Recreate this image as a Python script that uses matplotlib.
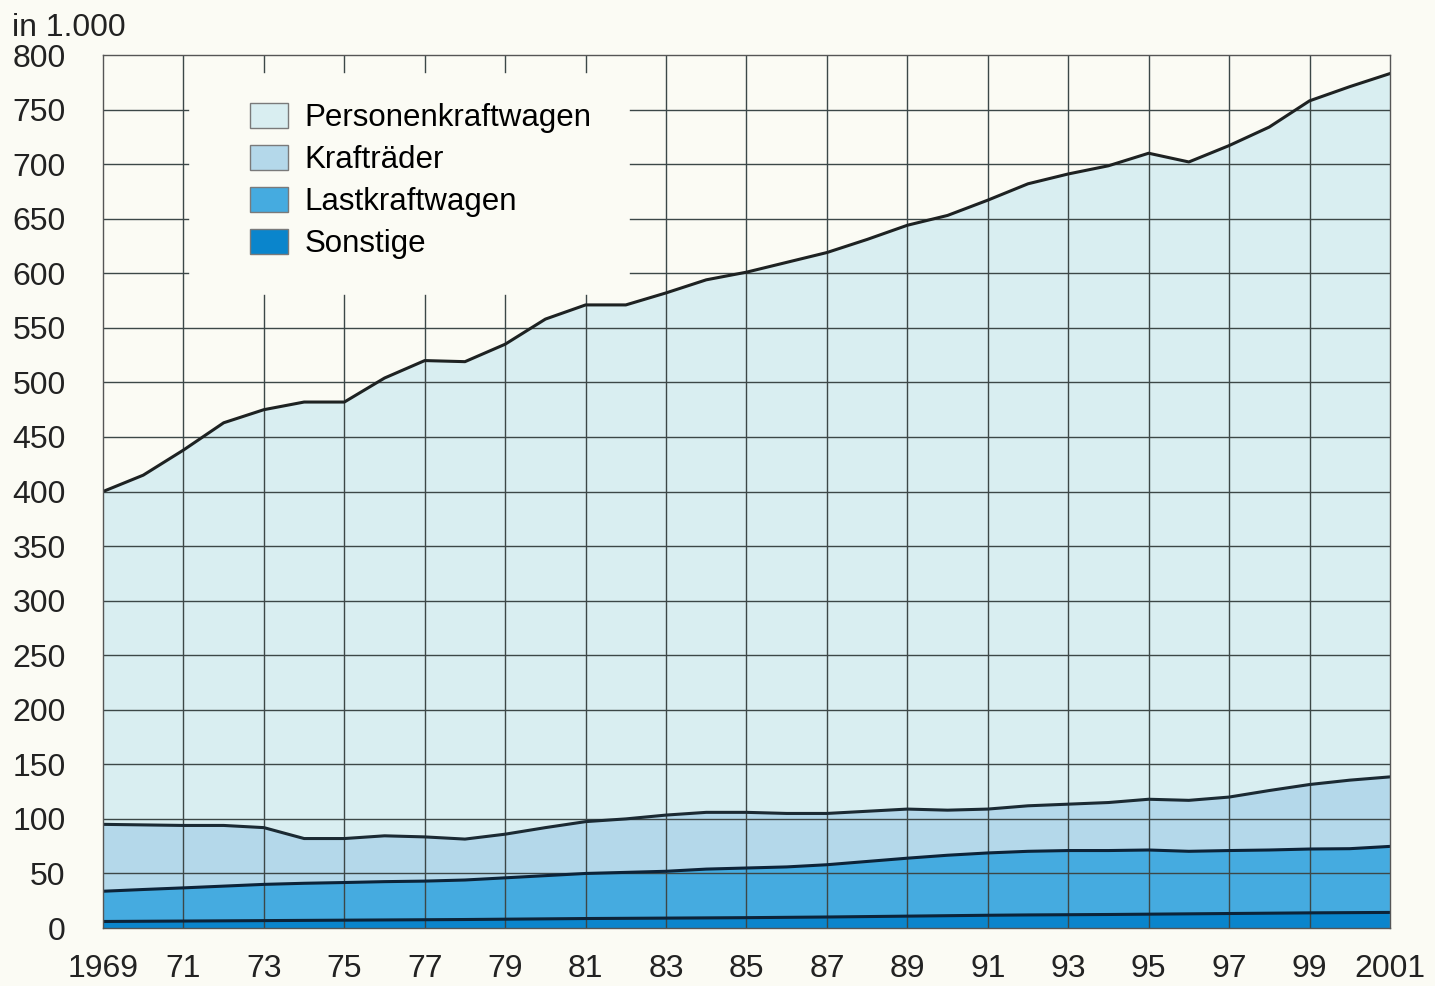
import matplotlib.pyplot as plt
import numpy as np
from matplotlib.patches import Patch

plt.rcParams['font.family'] = ['Liberation Sans', 'DejaVu Sans']

# Bestand in 1.000, 1969-2001
years = np.arange(1969, 2002)
sonstige = [6.0, 6.2, 6.4, 6.6, 6.8, 7.0, 7.2, 7.4, 7.6, 7.8, 8.1, 8.4, 8.7, 8.9, 9.1, 9.3, 9.5,
            9.8, 10.1, 10.5, 10.9, 11.3, 11.7, 12.0, 12.2, 12.4, 12.7, 13.0, 13.3, 13.6, 13.9, 14.1, 14.3]
lkw = [27.7, 29.1, 30.4, 31.8, 33.2, 34.0, 34.5, 35.1, 35.4, 36.2, 37.9, 39.6, 41.3, 42.1, 42.9, 44.7, 45.5,
       46.2, 47.9, 50.5, 53.1, 55.4, 57.1, 58.3, 58.8, 58.6, 58.8, 57.3, 57.7, 57.9, 58.5, 58.6, 60.5]
kraftraeder = [61.3, 59.2, 57.2, 55.6, 52.0, 41.0, 40.3, 42.0, 40.5, 37.5, 40.0, 44.0, 47.5, 49.0, 51.5, 52.0, 51.0,
               49.0, 47.0, 46.0, 45.0, 41.3, 40.2, 41.7, 42.5, 44.0, 46.5, 46.7, 49.0, 54.5, 59.1, 62.8, 63.7]
pkw = [305, 320.5, 344, 369, 383, 400, 400, 419.5, 436.5, 437.5, 449, 466, 473.5, 471, 478.5, 488, 495,
       505, 514, 524, 535, 545, 558, 570, 577.5, 583.5, 592, 585, 597, 608, 626.5, 635.5, 644.5]

labels = ["Personenkraftwagen", "Krafträder", "Lastkraftwagen", "Sonstige"]
colors = ["#d9eef1", "#b4d8ea", "#45abe0", "#0a85cc"]
xtick_years = np.arange(1969, 2002, 2)
xtick_labels = ["1969"] + [str(y)[2:] for y in xtick_years[1:-1]] + ["2001"]
yticks = np.arange(0, 801, 50)

bg = "#fbfbf4"
grid_c = "#3c4747"

fig = plt.figure(figsize=(14.35, 9.86), dpi=100, facecolor=bg)
ax = fig.add_axes([0.0718, 0.0588, 0.8968, 0.8854])
ax.set_facecolor(bg)

# stacked areas, bottom to top
ax.stackplot(years, sonstige, lkw, kraftraeder, pkw,
             colors=colors[::-1], zorder=1, linewidth=0)

# grid, left open behind the legend
bx0, bx1, by0, by1 = 1971.12, 1982.1, 580, 784
for x in xtick_years[1:-1]:
    if bx0 < x < bx1:
        ax.plot([x, x], [0, by0], color=grid_c, lw=1.0, zorder=2)
        ax.plot([x, x], [by1, 800], color=grid_c, lw=1.0, zorder=2)
    else:
        ax.plot([x, x], [0, 800], color=grid_c, lw=1.0, zorder=2)
for y in yticks[1:-1]:
    if by0 < y < by1:
        ax.plot([1969, bx0], [y, y], color=grid_c, lw=1.0, zorder=2)
        ax.plot([bx1, 2001], [y, y], color=grid_c, lw=1.0, zorder=2)
    else:
        ax.plot([1969, 2001], [y, y], color=grid_c, lw=1.0, zorder=2)

# boundary lines
tops = np.cumsum([sonstige, lkw, kraftraeder, pkw], axis=0)
line_c = ["#0c2338", "#0c2338", "#1b2a33", "#1e2222"]
for t, c in zip(tops, line_c):
    ax.plot(years, t, color=c, lw=2.2, zorder=3, solid_joinstyle="round")

ax.set_xlim(1969, 2001)
ax.set_ylim(0, 800)
ax.set_xticks(xtick_years)
ax.set_xticklabels(xtick_labels)
ax.set_yticks(yticks)
ax.tick_params(length=0, labelsize=23, colors="#222222")
ax.tick_params(axis="x", pad=19)
ax.tick_params(axis="y", pad=27)
for s in ax.spines.values():
    s.set_color("#555555")
    s.set_linewidth(1.0)
    s.set_zorder(4)

handles = [Patch(facecolor=c, edgecolor="#7a7a7a", lw=1.0) for c in colors]
leg = ax.legend(handles, labels, loc="upper left", bbox_to_anchor=(0.114, 0.945),
                frameon=False, fontsize=22.5, handlelength=1.22, handleheight=0.84,
                handletextpad=0.54, labelspacing=0.38, borderpad=0, borderaxespad=0)
leg.set_zorder(5)

fig.text(12 / 1435, 1 - 28 / 986, "in 1.000", fontsize=23, va="center", ha="left", color="#222222")

fig.savefig("out.png", dpi=100, facecolor=bg)
